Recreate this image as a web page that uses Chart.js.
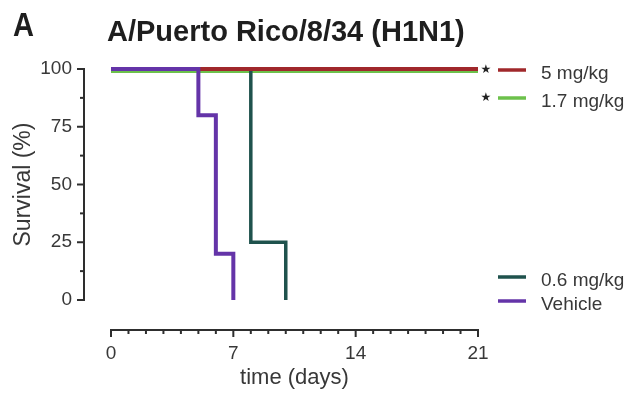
<!DOCTYPE html>
<html>
<head>
<meta charset="utf-8">
<script src="https://cdn.jsdelivr.net/npm/chart.js@4.4.1/dist/chart.umd.min.js"></script>
<style>
  html, body { margin: 0; padding: 0; background: #ffffff; }
  #wrap { width: 627px; height: 393px; position: relative; }
</style>
</head>
<body>
<div id="wrap"><canvas id="survival" width="627" height="393"></canvas></div>
<script>
// Kaplan-Meier survival, A/Puerto Rico/8/34 (H1N1) challenge
const panelLabel = 'A';
const chartTitle = 'A/Puerto Rico/8/34 (H1N1)';
const groupLabels = ['5 mg/kg', '1.7 mg/kg', '0.6 mg/kg', 'Vehicle'];
const significant = [true, true, false, false];

// step points: [day, survival %]
const dose5Days = [0, 21];
const dose5Survival = [100, 100];
const dose17Days = [0, 21];
const dose17Survival = [100, 100];
const dose06Days = [0, 8, 10];
const dose06Survival = [100, 25, 0];
const vehicleDays = [0, 5, 6, 7];
const vehicleSurvival = [100, 80, 20, 0];

const xMajorTicks = [0, 7, 14, 21];
const yMajorTicks = [0, 25, 50, 75, 100];

const colors = ['#a0282b', '#6cc14b', '#1f524d', '#6434a8'];
const textColor = '#383838';
const axisColor = '#2e2e2e';

function pts(days, surv) {
  return days.map((d, i) => ({ x: d, y: surv[i] }));
}

// GraphPad-style detached axes with major/minor tick marks
const detachedAxes = {
  id: 'detachedAxes',
  beforeDatasetsDraw(chart) {
    const { ctx, chartArea, scales } = chart;
    const xs = scales.x, ys = scales.y;
    const axisX = chartArea.left - 27;
    const axisY = chartArea.bottom + 30;
    ctx.save();
    ctx.strokeStyle = axisColor;
    ctx.lineWidth = 2;
    ctx.lineCap = 'square';
    // y axis
    ctx.beginPath();
    ctx.moveTo(axisX, ys.getPixelForValue(100));
    ctx.lineTo(axisX, ys.getPixelForValue(0));
    ctx.stroke();
    ys.ticks.forEach(t => {
      const y = ys.getPixelForValue(t.value);
      const len = yMajorTicks.includes(t.value) ? 6 : 3;
      ctx.beginPath();
      ctx.moveTo(axisX, y);
      ctx.lineTo(axisX - len, y);
      ctx.stroke();
    });
    // x axis
    ctx.beginPath();
    ctx.moveTo(xs.getPixelForValue(0), axisY);
    ctx.lineTo(xs.getPixelForValue(21), axisY);
    ctx.stroke();
    xs.ticks.forEach(t => {
      const x = xs.getPixelForValue(t.value);
      const len = xMajorTicks.includes(t.value) ? 6 : 3;
      ctx.beginPath();
      ctx.moveTo(x, axisY);
      ctx.lineTo(x, axisY + len);
      ctx.stroke();
    });
    ctx.restore();
  },
  // the 1.7 mg/kg curve sits just under the 5 mg/kg curve so both stay visible
  beforeDatasetDraw(chart, args) {
    if (args.index === 1) {
      chart.ctx.save();
      chart.ctx.translate(0, 2.5);
    }
  },
  afterDatasetDraw(chart, args) {
    if (args.index === 1) chart.ctx.restore();
  }
};

// panel letter, title and right-hand legend
const annotations = {
  id: 'annotations',
  afterDraw(chart) {
    const { ctx, chartArea } = chart;
    ctx.save();
    ctx.fillStyle = '#1e1e1e';
    ctx.textBaseline = 'alphabetic';
    ctx.textAlign = 'left';
    ctx.font = 'bold 33px "Liberation Sans Narrow", "Liberation Sans", Arial, sans-serif';
    ctx.save();
    ctx.translate(13, 36);
    ctx.scale(0.88, 1);
    ctx.fillText(panelLabel, 0, 0);
    ctx.restore();
    ctx.font = 'bold 29px "Liberation Sans", Arial, sans-serif';
    ctx.fillText(chartTitle, 107, 41);

    const rowY = [70, 98, 277, 301];
    const lineX0 = chartArea.right + 20;
    const lineX1 = chartArea.right + 48;
    chart.data.datasets.forEach((ds, i) => {
      const y = rowY[i];
      ctx.strokeStyle = ds.borderColor;
      ctx.lineWidth = 3.5;
      ctx.lineCap = 'butt';
      ctx.beginPath();
      ctx.moveTo(lineX0, y);
      ctx.lineTo(lineX1, y);
      ctx.stroke();
      ctx.fillStyle = textColor;
      ctx.font = '19px "Liberation Sans", Arial, sans-serif';
      ctx.textAlign = 'left';
      ctx.textBaseline = 'alphabetic';
      ctx.fillText(ds.label, chartArea.right + 63, y + 8.5);
      if (significant[i]) {
        ctx.fillStyle = '#222222';
        ctx.font = '12px "DejaVu Sans", sans-serif';
        ctx.textAlign = 'center';
        ctx.textBaseline = 'middle';
        ctx.fillText('\u2605', chartArea.right + 8, y);
      }
    });
    ctx.restore();
  }
};

const seriesDays = [dose5Days, dose17Days, dose06Days, vehicleDays];
const seriesSurvival = [dose5Survival, dose17Survival, dose06Survival, vehicleSurvival];
// vehicle on top, then 5 mg/kg, 0.6 mg/kg, 1.7 mg/kg underneath
const drawOrder = [1, 3, 2, 0];
const widths = [4, 3, 3.5, 4];

new Chart(document.getElementById('survival'), {
  type: 'line',
  data: {
    datasets: groupLabels.map((label, i) => ({
      label,
      data: pts(seriesDays[i], seriesSurvival[i]),
      borderColor: colors[i],
      backgroundColor: colors[i],
      borderWidth: widths[i],
      stepped: 'before',
      pointRadius: 0,
      fill: false,
      clip: false,
      order: drawOrder[i],
      borderCapStyle: 'butt',
      borderJoinStyle: 'miter'
    }))
  },
  options: {
    responsive: false,
    animation: false,
    devicePixelRatio: 1,
    layout: { padding: { left: 0, top: 69, right: 149, bottom: 0 } },
    plugins: {
      legend: { display: false },
      tooltip: { enabled: false },
      title: { display: false }
    },
    events: [],
    scales: {
      x: {
        type: 'linear',
        min: 0,
        max: 21,
        grid: { display: false, drawTicks: false },
        border: { display: false },
        afterFit(scale) { scale.height = 93; },
        ticks: {
          stepSize: 1,
          autoSkip: false,
          maxRotation: 0,
          padding: 42,
          color: textColor,
          font: { family: '"Liberation Sans", Arial, sans-serif', size: 19 },
          callback: v => (xMajorTicks.includes(v) ? String(v) : '')
        },
        title: {
          display: true,
          text: 'time (days)',
          color: textColor,
          font: { family: '"Liberation Sans", Arial, sans-serif', size: 22, lineHeight: 1 },
          padding: { top: 0, bottom: 4 }
        }
      },
      y: {
        type: 'linear',
        min: 0,
        max: 100,
        grid: { display: false, drawTicks: false },
        border: { display: false },
        afterFit(scale) { scale.width = 111; },
        ticks: {
          stepSize: 12.5,
          autoSkip: false,
          padding: 39,
          color: textColor,
          font: { family: '"Liberation Sans", Arial, sans-serif', size: 19 },
          callback: v => (yMajorTicks.includes(v) ? String(v) : '')
        },
        title: {
          display: true,
          text: 'Survival (%)',
          color: textColor,
          font: { family: '"Liberation Sans", Arial, sans-serif', size: 23, lineHeight: 1 },
          padding: { top: 12, bottom: 0 }
        }
      }
    }
  },
  plugins: [detachedAxes, annotations]
});
</script>
</body>
</html>
